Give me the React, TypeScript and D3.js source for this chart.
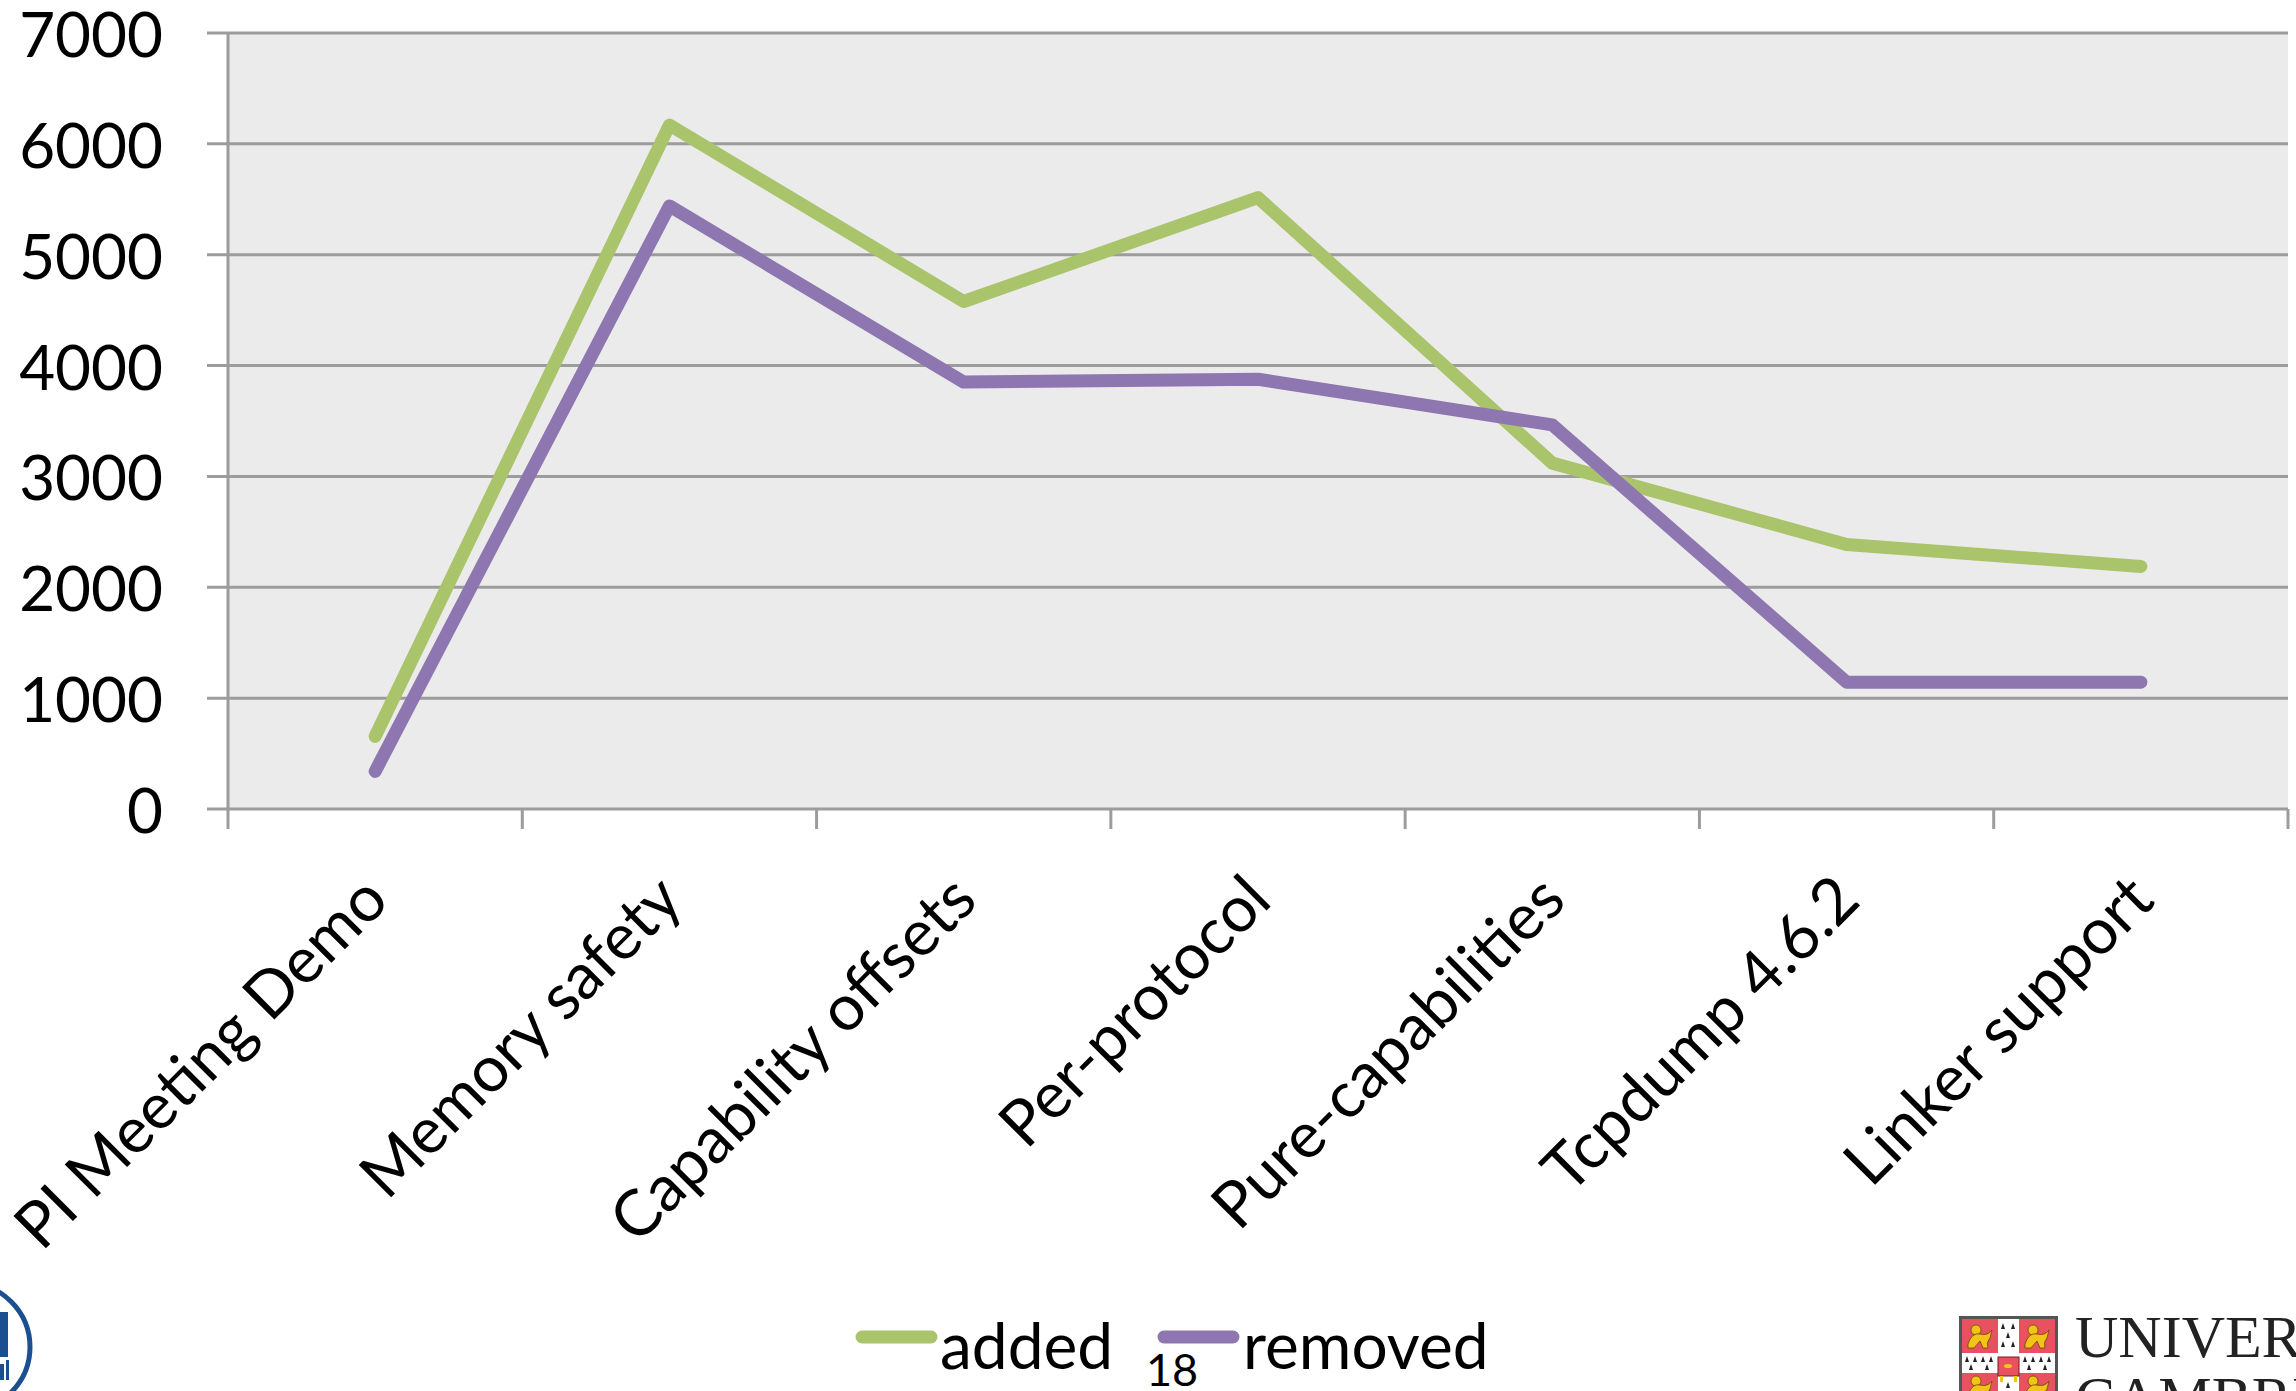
import React from "react";
import * as d3 from "d3";

// Lines of code added/removed at each milestone
const categories = [
  "PI Meeting Demo",
  "Memory safety",
  "Capability offsets",
  "Per-protocol",
  "Pure-capabilities",
  "Tcpdump 4.6.2",
  "Linker support",
];
const added = [655, 6170, 4578, 5515, 3120, 2386, 2188];
const removed = [339, 5440, 3851, 3877, 3465, 1144, 1144];
const yTicks = [0, 1000, 2000, 3000, 4000, 5000, 6000, 7000];
const seriesNames = ["added", "removed"];

const W = 2296;
const H = 1391;
const plot = { left: 228, right: 2288, top: 33, bottom: 809 };
const GREEN = "#a9c46b";
const PURPLE = "#8e76b0";
const GRID = "#9c9c9c";
const FONT = "Lato, 'Open Sans', sans-serif";

export default function App() {
  const y = d3.scaleLinear().domain([0, 7000]).range([plot.bottom, plot.top]);
  const band = d3.scaleBand<string>().domain(categories).range([plot.left, plot.right]);
  const x = (c: string) => (band(c) as number) + band.bandwidth() / 2;

  const line = d3
    .line<number>()
    .x((_, i) => x(categories[i]))
    .y((d) => y(d));

  const bandEdges = categories.map((c) => band(c) as number).concat([plot.right]);

  return (
    <div style={{ position: "absolute", left: 0, top: 0, width: W, height: H, overflow: "hidden", background: "#fff" }}>
      <svg width={W} height={H} style={{ display: "block" }}>
        {/* plot background */}
        <rect x={plot.left} y={plot.top} width={plot.right - plot.left} height={plot.bottom - plot.top} fill="#ebebeb" />

        {/* horizontal gridlines + y ticks */}
        {yTicks.map((t) => (
          <g key={t}>
            <line x1={plot.left - 21} x2={plot.right} y1={y(t)} y2={y(t)} stroke={GRID} strokeWidth={3} />
            <text
              x={163}
              y={y(t) + 24}
              textAnchor="end"
              fontFamily={FONT}
              fontSize={62}
              fill="#000"
            >
              {t}
            </text>
          </g>
        ))}

        {/* vertical axis */}
        <line x1={plot.left} x2={plot.left} y1={plot.top} y2={plot.bottom} stroke={GRID} strokeWidth={3} />

        {/* category ticks */}
        {bandEdges.map((bx, i) => (
          <line key={i} x1={bx} x2={bx} y1={plot.bottom} y2={plot.bottom + 20} stroke={GRID} strokeWidth={3} />
        ))}

        {/* category labels */}
        {categories.map((c) => {
          const ax = x(c) + 16;
          const ay = 903;
          return (
            <text
              key={c}
              x={ax}
              y={ay}
              textAnchor="end"
              transform={`rotate(-45 ${ax} ${ay})`}
              fontFamily={FONT}
              fontSize={64}
              fill="#000"
            >
              {c}
            </text>
          );
        })}

        {/* series lines */}
        <path d={line(added) as string} fill="none" stroke={GREEN} strokeWidth={13} strokeLinecap="round" strokeLinejoin="round" />
        <path d={line(removed) as string} fill="none" stroke={PURPLE} strokeWidth={13} strokeLinecap="round" strokeLinejoin="round" />

        {/* legend */}
        <line x1={862} x2={931} y1={1337} y2={1337} stroke={GREEN} strokeWidth={13} strokeLinecap="round" />
        <text x={940} y={1369} fontFamily={FONT} fontSize={64} fill="#000">{seriesNames[0]}</text>
        <line x1={1164} x2={1233} y1={1337} y2={1337} stroke={PURPLE} strokeWidth={13} strokeLinecap="round" />
        <text x={1243} y={1369} fontFamily={FONT} fontSize={64} fill="#000">{seriesNames[1]}</text>

        {/* slide number */}
        <text x={1146} y={1386} fontFamily={FONT} fontSize={45} fill="#000">18</text>

        {/* left emblem */}
        <g>
          <circle cx={-34} cy={1347} r={64} fill="none" stroke="#1b4f8f" strokeWidth={5} />
          <rect x={0} y={1312} width={8} height={45} fill="#1b4f8f" />
          <rect x={0} y={1364} width={4} height={16} fill="#1b4f8f" />
          <rect x={6} y={1360} width={3} height={20} fill="#1b4f8f" />
        </g>

        {/* right crest */}
        <g>
          <rect x={1959} y={1316} width={99} height={90} fill="#555" />
          <rect x={1962} y={1319} width={93} height={90} fill="#fff" />
          <rect x={1962} y={1319} width={36} height={34} fill="#e8515f" />
          <rect x={2019} y={1319} width={36} height={34} fill="#e8515f" />
          <rect x={1962} y={1373} width={36} height={30} fill="#e8515f" />
          <rect x={2019} y={1373} width={36} height={30} fill="#e8515f" />
          {[
            [1980, 1336],
            [2037, 1336],
            [1980, 1387],
            [2037, 1387],
          ].map(([cx, cy], i) => (
            <g key={i} fill="#f2c418" stroke="#6a4a00" strokeWidth={0.8}>
              <ellipse cx={cx - 4} cy={cy - 6} rx={5} ry={5} />
              <path d={`M${cx - 12},${cy + 8} Q${cx - 8},${cy - 4} ${cx},${cy - 2} Q${cx + 8},${cy} ${cx + 12},${cy - 6} L${cx + 10},${cy + 2} Q${cx + 6},${cy + 6} ${cx + 8},${cy + 12} L${cx + 3},${cy + 12} L${cx},${cy + 5} L${cx - 6},${cy + 12} L${cx - 12},${cy + 12} Z`} />
            </g>
          ))}
          {/* ermine spots */}
          {[
            [2003, 1326], [2013, 1326], [2008, 1335], [2003, 1344], [2013, 1344],
            [1967, 1359], [1975, 1359], [1983, 1359], [1991, 1359], [1971, 1367], [1987, 1367],
            [2025, 1359], [2033, 1359], [2041, 1359], [2049, 1359], [2029, 1367], [2045, 1367],
            [2008, 1385], [2003, 1395], [2013, 1395],
          ].map(([cx, cy], i) => (
            <path key={i} d={`M${cx},${cy - 3} L${cx + 2},${cy + 3} L${cx - 2},${cy + 3} Z`} fill="#222" />
          ))}
          <rect x={1998} y={1357} width={21} height={19} fill="#e8515f" stroke="#7a1b22" strokeWidth={1} />
          <ellipse cx={2008} cy={1366} rx={4} ry={2} fill="#f2c418" />
          <rect x={2000} y={1376} width={3} height={6} fill="#f2c418" />
          <rect x={2014} y={1376} width={3} height={6} fill="#f2c418" />
          <text x={2075} y={1357} fontFamily="'Liberation Serif', serif" fontSize={60} fill="#222">UNIVERSITY OF</text>
          <text x={2075} y={1418} fontFamily="'Liberation Serif', serif" fontSize={60} fill="#222">CAMBRIDGE</text>
        </g>
      </svg>
    </div>
  );
}
